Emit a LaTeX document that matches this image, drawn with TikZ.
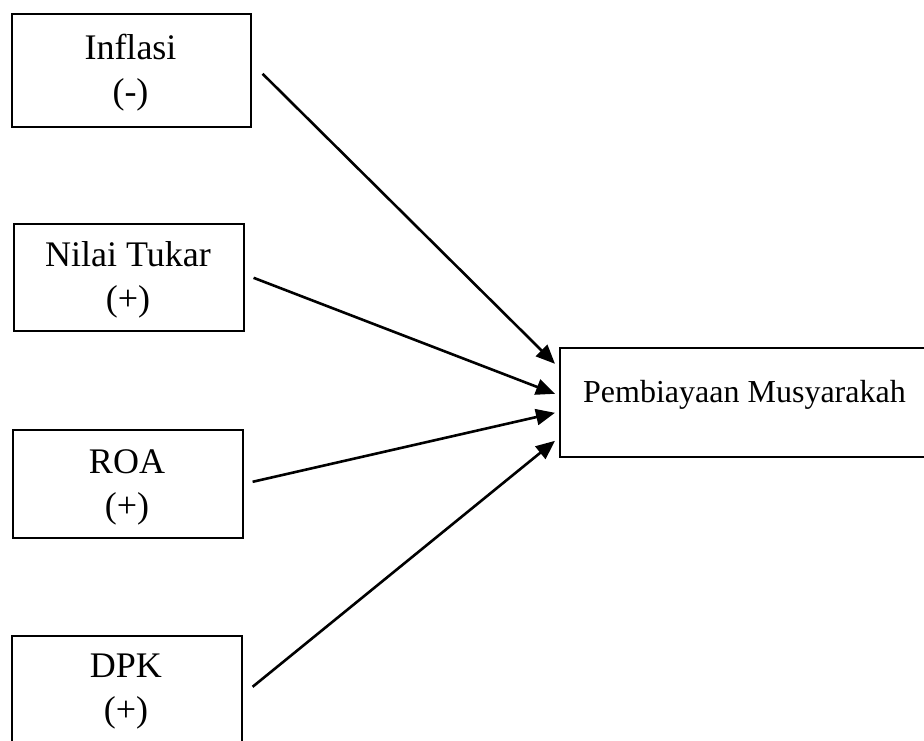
\documentclass[tikz,border=0pt]{standalone}
\usepackage{fontspec}
\setmainfont{Liberation Serif}
\usetikzlibrary{calc,arrows.meta}
\begin{document}
\begin{tikzpicture}[x=1pt,y=-1pt,
  box/.style={draw=black,line width=1.6pt,rectangle,inner sep=0pt,anchor=north west},
  lbl/.style={inner sep=0pt,anchor=base,align=center,font=\fontsize{36}{44}\selectfont},
  big/.style={inner sep=0pt,anchor=base west,font=\fontsize{32}{38}\selectfont},
  arr/.style={line width=2.6pt,-{Triangle[length=19pt,width=16pt]}}]
\useasboundingbox (0,0) rectangle (924,740);
\fill[white] (0,0) rectangle (924,740);
\begin{scope}
\clip (0,0) rectangle (924,740);
\node[box,minimum width=239pt,minimum height=113pt] (inf) at (11,13) {};
\node[box,minimum width=230pt,minimum height=107pt] (nt) at (13,223) {};
\node[box,minimum width=230pt,minimum height=108pt] (roa) at (12,429) {};
\node[box,minimum width=230pt,minimum height=112pt] (dpk) at (11,635) {};
\node[box,minimum width=370pt,minimum height=109pt] (pm) at (559,347) {};
\node[lbl] (tinf) at (130.5,103) {Inflasi\\(-)};
\node[lbl] (tnt) at (128,310) {Nilai Tukar\\(+)};
\node[lbl] (troa) at (127,517) {ROA\\(+)};
\node[lbl] (tdpk) at (126,721) {DPK\\(+)};
\node[big] (tpm) at (583,402) {Pembiayaan Musyarakah};
\draw[arr] ($(inf.east)+(11,3.5)$) -- ($(pm.west)+(-4,-38.5)$);
\draw[arr] ($(nt.east)+(9,0.5)$) -- ($(pm.west)+(-4,-8.5)$);
\draw[arr] ($(roa.east)+(9,-2)$) -- ($(pm.west)+(-4,10.5)$);
\draw[arr] ($(dpk.east)+(10,-5)$) -- ($(pm.west)+(-4,38.5)$);
\end{scope}
\end{tikzpicture}
\end{document}
